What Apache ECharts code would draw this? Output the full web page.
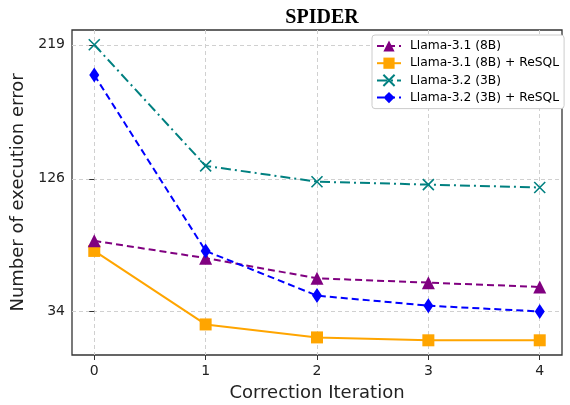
<!DOCTYPE html>
<html>
<head>
<meta charset="utf-8">
<script src="https://cdn.jsdelivr.net/npm/echarts@6/dist/echarts.min.js"></script>
<style>
  html, body { margin: 0; padding: 0; background: #fff; }
  #chart { width: 570px; height: 405px; }
</style>
</head>
<body>
<div id="chart"></div>
<script>
// ---- data ----
var iterations = [0, 1, 2, 3, 4];
var yTicks = [34, 126, 219];

var llama31 = [83, 71, 57, 54, 51];
var llama31Resql = [76, 25, 16, 14, 14];
var llama32 = [219, 135, 124, 122, 120];
var llama32Resql = [198, 76, 45, 38, 34];

var names = ['Llama-3.1 (8B)', 'Llama-3.1 (8B) + ReSQL', 'Llama-3.2 (3B)', 'Llama-3.2 (3B) + ReSQL'];

function pairs(vals) {
  return vals.map(function (v, i) { return [iterations[i], v]; });
}

var font = 'DejaVu Sans';

var chart = echarts.init(document.getElementById('chart'), null, { renderer: 'canvas' });

chart.setOption({
  animation: false,
  backgroundColor: '#fff',
  title: {
    text: 'SPIDER',
    left: 317,
    textAlign: 'center',
    top: 3,
    textStyle: { fontFamily: 'Liberation Serif', fontWeight: 'bold', fontSize: 20, color: '#000' }
  },
  grid: {
    left: 72, right: 8, top: 30, bottom: 50,
    outerBoundsMode: 'none',
    containLabel: false,
    show: true, borderColor: '#333', borderWidth: 1.3, backgroundColor: 'transparent'
  },
  legend: {
    orient: 'vertical',
    left: 372, top: 35,
    padding: [4, 5, 4, 4],
    itemWidth: 24, itemHeight: 14, itemGap: 3.2,
    backgroundColor: '#fff',
    borderColor: '#ccc', borderWidth: 1, borderRadius: 3,
    textStyle: { fontFamily: font, fontSize: 12.3, lineHeight: 14, color: '#000', padding: [0, 0, 0, 4] },
    data: names
  },
  xAxis: {
    type: 'value',
    min: -0.2, max: 4.2,
    name: 'Correction Iteration',
    nameLocation: 'middle',
    nameGap: 29,
    nameTextStyle: { fontFamily: font, fontSize: 18, color: '#222' },
    axisLine: { show: false },
    axisTick: { show: true, length: 5, lineStyle: { color: '#333' }, customValues: iterations },
    axisLabel: { fontFamily: font, fontSize: 14, color: '#222', margin: 9, customValues: iterations },
    splitLine: { show: true, lineStyle: { color: '#d0d0d0', type: [4, 3], width: 1 } }
  },
  yAxis: {
    type: 'value',
    min: 3.8, max: 229.25,
    name: 'Number of execution error',
    nameLocation: 'middle',
    nameRotate: 90,
    nameGap: 45,
    nameTextStyle: { fontFamily: font, fontSize: 18, color: '#222' },
    axisLine: { show: false },
    axisTick: { show: true, length: 5, lineStyle: { color: '#333' }, customValues: yTicks },
    axisLabel: { fontFamily: font, fontSize: 14, color: '#222', margin: 7, customValues: yTicks },
    splitLine: { show: true, lineStyle: { color: '#d0d0d0', type: [4, 3], width: 1 } }
  },
  series: [
    {
      name: names[0], type: 'line', data: pairs(llama31),
      symbol: 'triangle', symbolSize: 13,
      itemStyle: { color: '#800080' },
      lineStyle: { color: '#800080', width: 2, type: [7, 4] },
      z: 3
    },
    {
      name: names[1], type: 'line', data: pairs(llama31Resql),
      symbol: 'rect', symbolSize: 12,
      itemStyle: { color: '#FFA500' },
      lineStyle: { color: '#FFA500', width: 2, type: 'solid' },
      z: 2
    },
    {
      name: names[2], type: 'line', data: pairs(llama32),
      symbol: 'path://M0,0L10,10M10,0L0,10', symbolSize: 11,
      itemStyle: { color: 'rgba(0,0,0,0)', borderColor: '#008080', borderWidth: 1.6 },
      lineStyle: { color: '#008080', width: 2, type: [10, 4, 2, 4] },
      z: 4
    },
    {
      name: names[3], type: 'line', data: pairs(llama32Resql),
      symbol: 'diamond', symbolSize: [10, 15],
      itemStyle: { color: '#0000FF' },
      lineStyle: { color: '#0000FF', width: 2, type: [7, 4] },
      z: 5
    }
  ]
});
</script>
</body>
</html>
